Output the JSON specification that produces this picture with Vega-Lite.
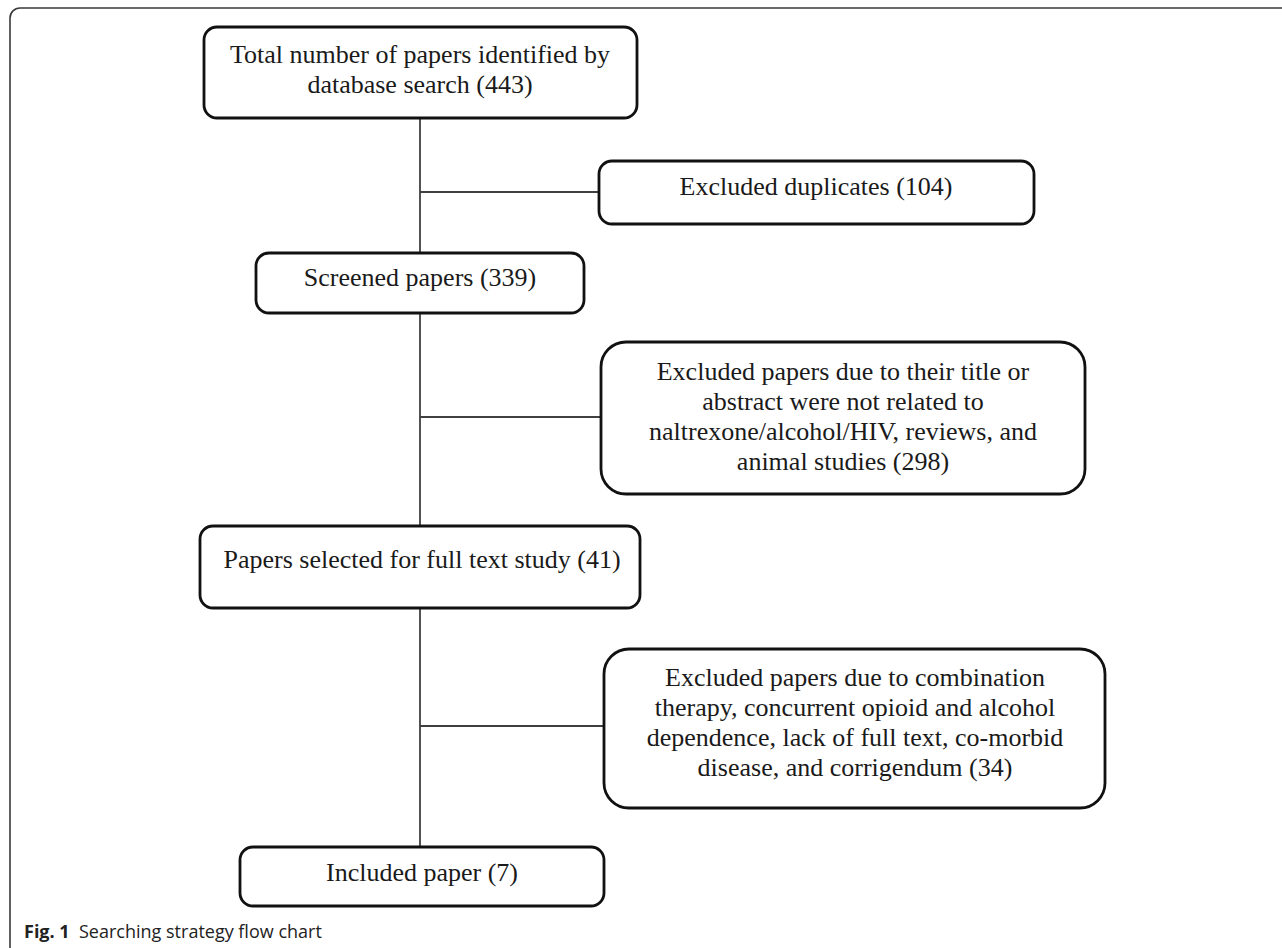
{
  "$schema": "https://vega.github.io/schema/vega-lite/v6.json",
  "width": 1282,
  "height": 948,
  "autosize": {"type": "fit", "contains": "padding"},
  "padding": 0,
  "background": "white",
  "config": {"view": {"stroke": null}},
  "datasets": {
    "frame": [{"x0": 10, "x1": 1300, "y0": 8, "y1": 970}],
    "boxes": [
      {"id": 1, "x0": 204, "x1": 637, "y0": 27, "y1": 118},
      {"id": 2, "x0": 599, "x1": 1034, "y0": 161, "y1": 224},
      {"id": 3, "x0": 256, "x1": 584, "y0": 253, "y1": 313},
      {"id": 4, "x0": 601, "x1": 1085, "y0": 342, "y1": 494},
      {"id": 5, "x0": 200, "x1": 640, "y0": 526, "y1": 608},
      {"id": 6, "x0": 604, "x1": 1105, "y0": 649, "y1": 808},
      {"id": 7, "x0": 240, "x1": 604, "y0": 847, "y1": 906}
    ],
    "links": [
      {"x0": 420, "x1": 420, "y0": 118, "y1": 253},
      {"x0": 420, "x1": 599, "y0": 192, "y1": 192},
      {"x0": 420, "x1": 420, "y0": 313, "y1": 526},
      {"x0": 420, "x1": 601, "y0": 417, "y1": 417},
      {"x0": 420, "x1": 420, "y0": 608, "y1": 847},
      {"x0": 420, "x1": 604, "y0": 726, "y1": 726}
    ],
    "labels": [
      {"x": 420, "y": 55, "text": "Total number of papers identified by"},
      {"x": 420, "y": 85, "text": "database search (443)"},
      {"x": 816, "y": 187, "text": "Excluded duplicates (104)"},
      {"x": 420, "y": 278, "text": "Screened papers (339)"},
      {"x": 843, "y": 372, "text": "Excluded papers due to their title or"},
      {"x": 843, "y": 402, "text": "abstract were not related to"},
      {"x": 843, "y": 432, "text": "naltrexone/alcohol/HIV, reviews, and"},
      {"x": 843, "y": 462, "text": "animal studies (298)"},
      {"x": 422, "y": 560, "text": "Papers selected for full text study (41)"},
      {"x": 855, "y": 678, "text": "Excluded papers due to combination"},
      {"x": 855, "y": 708, "text": "therapy, concurrent opioid and alcohol"},
      {"x": 855, "y": 738, "text": "dependence, lack of full text, co-morbid"},
      {"x": 855, "y": 768, "text": "disease, and corrigendum (34)"},
      {"x": 422, "y": 873, "text": "Included paper (7)"}
    ],
    "caption": [
      {"x": 24, "y": 933, "bold": "Fig. 1", "rest": "Searching strategy flow chart"}
    ]
  },
  "layer": [
    {
      "data": {"name": "frame"},
      "mark": {"type": "rect", "fill": null, "stroke": "#3a3a3a", "strokeWidth": 1.6, "cornerRadius": 10, "clip": true},
      "encoding": {
        "x": {"field": "x0", "type": "quantitative", "scale": {"domain": [0, 1282], "nice": false, "zero": false}, "axis": null},
        "x2": {"field": "x1"},
        "y": {"field": "y0", "type": "quantitative", "scale": {"domain": [0, 948], "nice": false, "zero": false, "reverse": true}, "axis": null},
        "y2": {"field": "y1"}
      }
    },
    {
      "data": {"name": "links"},
      "mark": {"type": "rule", "stroke": "#404040", "strokeWidth": 1.8},
      "encoding": {
        "x": {"field": "x0", "type": "quantitative"},
        "x2": {"field": "x1"},
        "y": {"field": "y0", "type": "quantitative"},
        "y2": {"field": "y1"}
      }
    },
    {
      "data": {"name": "boxes"},
      "transform": [{"filter": "datum.id != 4 && datum.id != 6"}],
      "mark": {"type": "rect", "fill": "white", "stroke": "#111111", "strokeWidth": 2.8, "cornerRadius": 13},
      "encoding": {
        "x": {"field": "x0", "type": "quantitative"},
        "x2": {"field": "x1"},
        "y": {"field": "y0", "type": "quantitative"},
        "y2": {"field": "y1"}
      }
    },
    {
      "data": {"name": "boxes"},
      "transform": [{"filter": "datum.id == 4 || datum.id == 6"}],
      "mark": {"type": "rect", "fill": "white", "stroke": "#111111", "strokeWidth": 2.8, "cornerRadius": 25},
      "encoding": {
        "x": {"field": "x0", "type": "quantitative"},
        "x2": {"field": "x1"},
        "y": {"field": "y0", "type": "quantitative"},
        "y2": {"field": "y1"}
      }
    },
    {
      "data": {"name": "labels"},
      "mark": {"type": "text", "font": "Liberation Serif", "fontSize": 26, "color": "#1a1a1a", "align": "center", "baseline": "middle"},
      "encoding": {
        "x": {"field": "x", "type": "quantitative"},
        "y": {"field": "y", "type": "quantitative"},
        "text": {"field": "text"}
      }
    },
    {
      "data": {"name": "caption"},
      "mark": {"type": "text", "font": "Open Sans", "fontSize": 18, "fontWeight": "bold", "color": "#222222", "align": "left", "baseline": "middle"},
      "encoding": {
        "x": {"field": "x", "type": "quantitative"},
        "y": {"field": "y", "type": "quantitative"},
        "text": {"field": "bold"}
      }
    },
    {
      "data": {"name": "caption"},
      "mark": {"type": "text", "font": "Open Sans", "fontSize": 18, "color": "#222222", "align": "left", "baseline": "middle", "dx": 55},
      "encoding": {
        "x": {"field": "x", "type": "quantitative"},
        "y": {"field": "y", "type": "quantitative"},
        "text": {"field": "rest"}
      }
    }
  ]
}
